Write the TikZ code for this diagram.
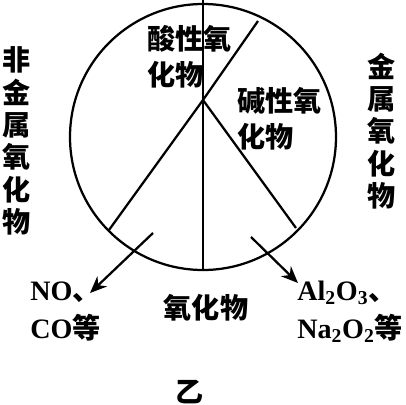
\documentclass[tikz,border=0pt]{standalone}
\usepackage{fontspec}
\setmainfont{Liberation Serif}
\newfontfamily\cjk{Noto Sans CJK SC}
\usepackage{tikz}
\usetikzlibrary{arrows.meta, positioning}
\tikzstyle{part} = [line width=1.6pt]
\tikzstyle{arrow} = [line width=1.6pt,-{Stealth[length=12pt, width=10pt]}]
\tikzstyle{label} = [inner sep=0pt, align=left, font=\cjk\bfseries\fontsize{20}{26}\selectfont]
\tikzstyle{column} = [inner sep=0pt, align=center, font=\cjk\bfseries\fontsize{20}{23}\selectfont]
\tikzstyle{formula} = [inner sep=0pt, align=left, font=\bfseries\fontsize{20}{27}\selectfont]

\begin{document}
\begin{tikzpicture}
    \useasboundingbox (-5.075,-6.7) rectangle (5.075,3.425);

    % Circle and its parts
    \node[part, draw, circle, minimum size=6.65cm, inner sep=0pt] (oxide) at (0,0) {};
    \coordinate (top) at (0,3.425);
    \coordinate (bottom) at (0,-3.325);
    \coordinate (hub) at (0,0.925);
    \coordinate (upright) at (1.375,2.9);
    \coordinate (lowleft) at (-2.35,-2.325);
    \coordinate (lowright) at (2.325,-2.275);
    \draw[part] (top) -- (bottom);
    \draw[part] (lowleft) -- (hub) -- (upright);
    \draw[part] (hub) -- (lowright);

    \node[label, anchor=west] (acidic) at (-1.4,2.01) {酸性氧\\化物};
    \node[label, anchor=west] (basic) at (0.85,0.46) {碱性氧\\化物};

    \node[column] (nonmetal) at (-4.65,-0.1) {非\\金\\属\\氧\\化\\物};
    \node[column] (metal) at (4.475,0.15) {金\\属\\氧\\化\\物};

    % Examples
    \node[formula, anchor=west] (nonmetalex) at (-4.325,-4.375) {NO{\cjk 、}\\CO{\cjk 等}};
    \node[formula, anchor=west] (metalex) at (2.35,-4.375) {Al\textsubscript{2}O\textsubscript{3}{\cjk 、}\\Na\textsubscript{2}O\textsubscript{2}{\cjk 等}};
    \coordinate (leftstart) at (-1.25,-2.4);
    \coordinate (leftend) at (-2.825,-3.9);
    \coordinate (rightstart) at (1.2,-2.5);
    \coordinate (rightend) at (2.375,-3.65);
    \draw[arrow] (leftstart) -- (leftend);
    \draw[arrow] (rightstart) -- (rightend);

    \node[label] (title) at (0.075,-4.275) {氧化物};
    \node[label] (caption) at (-0.325,-6.375) {乙};
\end{tikzpicture}
\end{document}
